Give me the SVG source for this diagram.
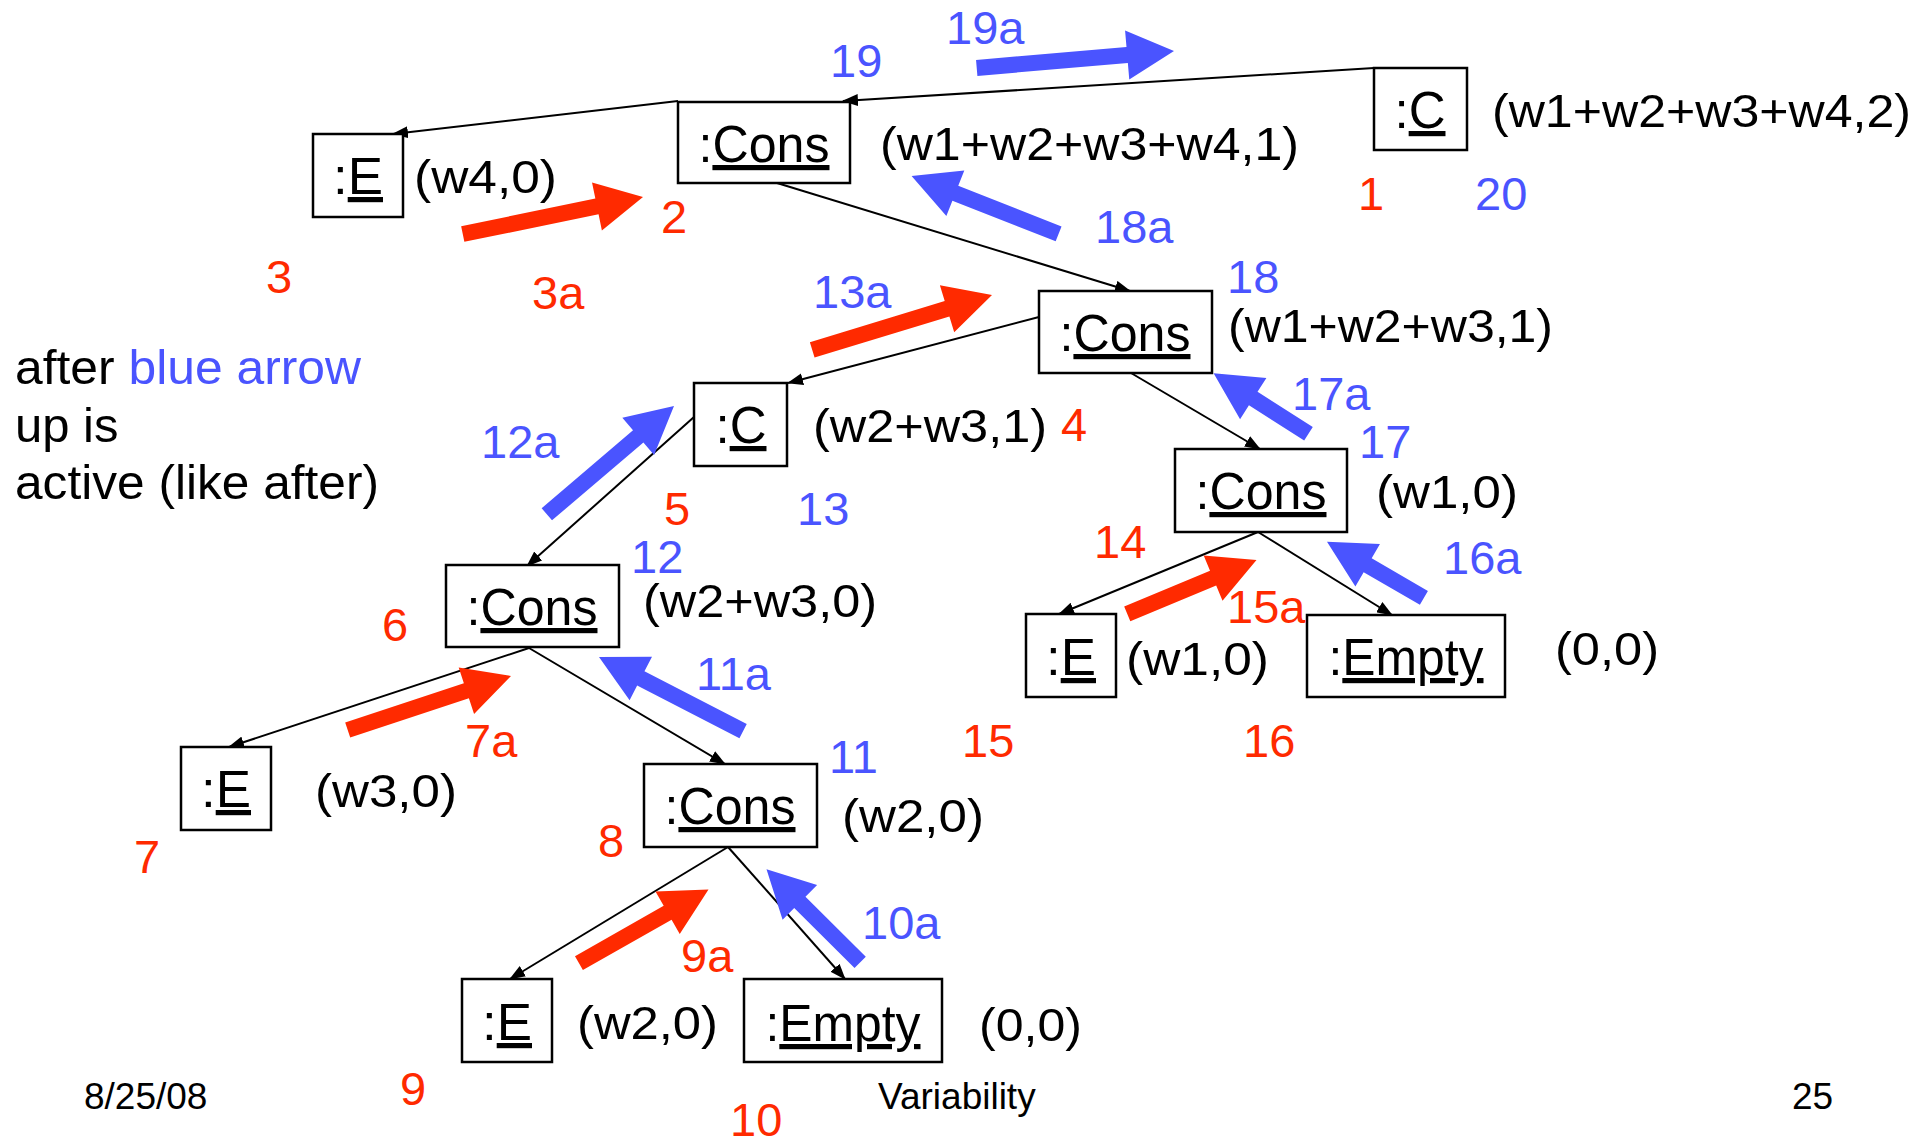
<svg xmlns="http://www.w3.org/2000/svg" width="1932" height="1143" viewBox="0 0 1932 1143">
<style>
.box{fill:#fff;stroke:#000;stroke-width:2.5}
.lbl{font-family:"Liberation Sans",Arial,sans-serif;font-size:52px;text-anchor:middle;fill:#000}
.u{text-decoration:underline}
.ann{font-family:"Liberation Sans",Arial,sans-serif;font-size:47px;fill:#000}
.num{font-family:"Liberation Sans",Arial,sans-serif;font-size:47px}
.txt{font-family:"Liberation Sans",Arial,sans-serif;font-size:49px;fill:#000}
.foot{font-family:"Liberation Sans",Arial,sans-serif;font-size:37px;fill:#000}
.r{fill:#FF2A00}
.b{fill:#4A54FF}
.conn{stroke:#000;stroke-width:2;fill:none;marker-end:url(#ah)}
</style>
<defs>
<marker id="ah" markerWidth="16" markerHeight="12" refX="15" refY="6" orient="auto" markerUnits="userSpaceOnUse">
<path d="M0,0 L16,6 L0,12 Z" fill="#000"/>
</marker>
</defs>
<rect width="1932" height="1143" fill="#fff"/>

<g id="connectors">
<line class="conn" x1="1374" y1="68" x2="843" y2="101"/>
<line class="conn" x1="678" y1="101" x2="393" y2="134"/>
<line class="conn" x1="777" y1="183" x2="1130" y2="291"/>
<line class="conn" x1="1039" y1="317" x2="788" y2="383"/>
<line class="conn" x1="1131" y1="373" x2="1260" y2="449"/>
<line class="conn" x1="694" y1="417" x2="527" y2="566"/>
<line class="conn" x1="529" y1="648" x2="229" y2="747"/>
<line class="conn" x1="529" y1="648" x2="725" y2="764"/>
<line class="conn" x1="728" y1="847" x2="510" y2="979"/>
<line class="conn" x1="728" y1="847" x2="845" y2="979"/>
<line class="conn" x1="1258" y1="532" x2="1059" y2="614"/>
<line class="conn" x1="1258" y1="532" x2="1392" y2="615"/>
</g>

<g id="n1"><rect class="box" x="1374" y="68" width="93" height="82"/><text class="lbl" x="1420" y="128" textLength="51" lengthAdjust="spacingAndGlyphs">:<tspan class="u">C</tspan></text></g>
<g id="n2"><rect class="box" x="678" y="102" width="172" height="81"/><text class="lbl" x="764" y="162" textLength="131" lengthAdjust="spacingAndGlyphs">:<tspan class="u">Cons</tspan></text></g>
<g id="n3"><rect class="box" x="313" y="134" width="90" height="83"/><text class="lbl" x="358" y="194" textLength="50" lengthAdjust="spacingAndGlyphs">:<tspan class="u">E</tspan></text></g>
<g id="n4"><rect class="box" x="1039" y="291" width="173" height="82"/><text class="lbl" x="1125" y="351" textLength="131" lengthAdjust="spacingAndGlyphs">:<tspan class="u">Cons</tspan></text></g>
<g id="n5"><rect class="box" x="694" y="383" width="93" height="83"/><text class="lbl" x="741" y="443" textLength="51" lengthAdjust="spacingAndGlyphs">:<tspan class="u">C</tspan></text></g>
<g id="n6"><rect class="box" x="1175" y="449" width="172" height="83"/><text class="lbl" x="1261" y="509" textLength="131" lengthAdjust="spacingAndGlyphs">:<tspan class="u">Cons</tspan></text></g>
<g id="n7"><rect class="box" x="446" y="565" width="173" height="82"/><text class="lbl" x="532" y="625" textLength="131" lengthAdjust="spacingAndGlyphs">:<tspan class="u">Cons</tspan></text></g>
<g id="n8"><rect class="box" x="1026" y="614" width="90" height="83"/><text class="lbl" x="1071" y="675" textLength="50" lengthAdjust="spacingAndGlyphs">:<tspan class="u">E</tspan></text></g>
<g id="n9"><rect class="box" x="1307" y="615" width="198" height="82"/><text class="lbl" x="1406" y="675" textLength="155" lengthAdjust="spacingAndGlyphs">:<tspan class="u">Empty</tspan></text></g>
<g id="n10"><rect class="box" x="181" y="747" width="90" height="83"/><text class="lbl" x="226" y="807" textLength="50" lengthAdjust="spacingAndGlyphs">:<tspan class="u">E</tspan></text></g>
<g id="n11"><rect class="box" x="644" y="764" width="173" height="83"/><text class="lbl" x="730" y="824" textLength="131" lengthAdjust="spacingAndGlyphs">:<tspan class="u">Cons</tspan></text></g>
<g id="n12"><rect class="box" x="462" y="979" width="90" height="83"/><text class="lbl" x="507" y="1040" textLength="50" lengthAdjust="spacingAndGlyphs">:<tspan class="u">E</tspan></text></g>
<g id="n13"><rect class="box" x="744" y="979" width="198" height="83"/><text class="lbl" x="843" y="1041" textLength="155" lengthAdjust="spacingAndGlyphs">:<tspan class="u">Empty</tspan></text></g>

<g id="values">
<text class="ann" x="414" y="193" textLength="143" lengthAdjust="spacingAndGlyphs">(w4,0)</text>
<text class="ann" x="880" y="160" textLength="419" lengthAdjust="spacingAndGlyphs">(w1+w2+w3+w4,1)</text>
<text class="ann" x="1492" y="127" textLength="419" lengthAdjust="spacingAndGlyphs">(w1+w2+w3+w4,2)</text>
<text class="ann" x="1228" y="342" textLength="325" lengthAdjust="spacingAndGlyphs">(w1+w2+w3,1)</text>
<text class="ann" x="813" y="442" textLength="234" lengthAdjust="spacingAndGlyphs">(w2+w3,1)</text>
<text class="ann" x="643" y="617" textLength="234" lengthAdjust="spacingAndGlyphs">(w2+w3,0)</text>
<text class="ann" x="1376" y="508" textLength="142" lengthAdjust="spacingAndGlyphs">(w1,0)</text>
<text class="ann" x="1126" y="675" textLength="143" lengthAdjust="spacingAndGlyphs">(w1,0)</text>
<text class="ann" x="1555" y="665" textLength="104" lengthAdjust="spacingAndGlyphs">(0,0)</text>
<text class="ann" x="315" y="807" textLength="142" lengthAdjust="spacingAndGlyphs">(w3,0)</text>
<text class="ann" x="842" y="832" textLength="142" lengthAdjust="spacingAndGlyphs">(w2,0)</text>
<text class="ann" x="577" y="1039" textLength="141" lengthAdjust="spacingAndGlyphs">(w2,0)</text>
<text class="ann" x="979" y="1041" textLength="103" lengthAdjust="spacingAndGlyphs">(0,0)</text>
</g>

<g id="flow-arrows">
<path class="r" transform="translate(643,197) rotate(-11.6)" d="M-184,-8 L-47,-8 L-47,-24.5 L0,0 L-47,24.5 L-47,8 L-184,8 Z"/>
<path class="r" transform="translate(992,295) rotate(-17)" d="M-188,-8 L-47,-8 L-47,-24.5 L0,0 L-47,24.5 L-47,8 L-188,8 Z"/>
<path class="r" transform="translate(511,676) rotate(-18.3)" d="M-172,-8 L-47,-8 L-47,-24.5 L0,0 L-47,24.5 L-47,8 L-172,8 Z"/>
<path class="r" transform="translate(708.5,889.5) rotate(-29.6)" d="M-149,-8 L-47,-8 L-47,-24.5 L0,0 L-47,24.5 L-47,8 L-149,8 Z"/>
<path class="r" transform="translate(1256.5,560) rotate(-22.6)" d="M-140,-8 L-47,-8 L-47,-24.5 L0,0 L-47,24.5 L-47,8 L-140,8 Z"/>
<path class="b" transform="translate(1174,51) rotate(-4.9)" d="M-198,-8 L-47,-8 L-47,-24.5 L0,0 L-47,24.5 L-47,8 L-198,8 Z"/>
<path class="b" transform="translate(911.6,176) rotate(-158.5)" d="M-158,-8 L-47,-8 L-47,-24.5 L0,0 L-47,24.5 L-47,8 L-158,8 Z"/>
<path class="b" transform="translate(1213.6,373.3) rotate(-147.5)" d="M-112.5,-8 L-47,-8 L-47,-24.5 L0,0 L-47,24.5 L-47,8 L-112.5,8 Z"/>
<path class="b" transform="translate(1327,541.7) rotate(-149.9)" d="M-112,-8 L-47,-8 L-47,-24.5 L0,0 L-47,24.5 L-47,8 L-112,8 Z"/>
<path class="b" transform="translate(674,406) rotate(-40.4)" d="M-167,-8 L-47,-8 L-47,-24.5 L0,0 L-47,24.5 L-47,8 L-167,8 Z"/>
<path class="b" transform="translate(599,657) rotate(-152.8)" d="M-162,-8 L-47,-8 L-47,-24.5 L0,0 L-47,24.5 L-47,8 L-162,8 Z"/>
<path class="b" transform="translate(766.5,869.3) rotate(-135.2)" d="M-132,-8 L-47,-8 L-47,-24.5 L0,0 L-47,24.5 L-47,8 L-132,8 Z"/>
</g>

<g id="step-numbers">
<text class="num r" x="1358" y="210">1</text>
<text class="num r" x="661" y="233">2</text>
<text class="num r" x="266" y="293">3</text>
<text class="num r" x="532" y="309">3a</text>
<text class="num r" x="1061" y="441">4</text>
<text class="num r" x="664" y="525">5</text>
<text class="num r" x="382" y="641">6</text>
<text class="num r" x="134" y="873">7</text>
<text class="num r" x="465" y="757">7a</text>
<text class="num r" x="598" y="857">8</text>
<text class="num r" x="400" y="1105">9</text>
<text class="num r" x="681" y="972">9a</text>
<text class="num r" x="730" y="1136">10</text>
<text class="num r" x="1094" y="558">14</text>
<text class="num r" x="962" y="757">15</text>
<text class="num r" x="1227" y="623">15a</text>
<text class="num r" x="1243" y="757">16</text>
<text class="num b" x="830" y="77">19</text>
<text class="num b" x="946" y="44">19a</text>
<text class="num b" x="1475" y="210">20</text>
<text class="num b" x="1095" y="243">18a</text>
<text class="num b" x="1227" y="293">18</text>
<text class="num b" x="813" y="308">13a</text>
<text class="num b" x="1292" y="410">17a</text>
<text class="num b" x="1359" y="458">17</text>
<text class="num b" x="481" y="458">12a</text>
<text class="num b" x="797" y="525">13</text>
<text class="num b" x="631" y="573">12</text>
<text class="num b" x="1443" y="574">16a</text>
<text class="num b" x="696" y="690">11a</text>
<text class="num b" x="829" y="773">11</text>
<text class="num b" x="862" y="939">10a</text>
</g>

<g id="note">
<text class="txt" x="15" y="384" textLength="346" lengthAdjust="spacingAndGlyphs">after <tspan class="b">blue arrow</tspan></text>
<text class="txt" x="15" y="442">up is</text>
<text class="txt" x="15" y="499" textLength="364" lengthAdjust="spacingAndGlyphs">active (like after)</text>
</g>

<g id="footer">
<text class="foot" x="84" y="1109">8/25/08</text>
<text class="foot" x="878" y="1109">Variability</text>
<text class="foot" x="1792" y="1109">25</text>
</g>
</svg>
